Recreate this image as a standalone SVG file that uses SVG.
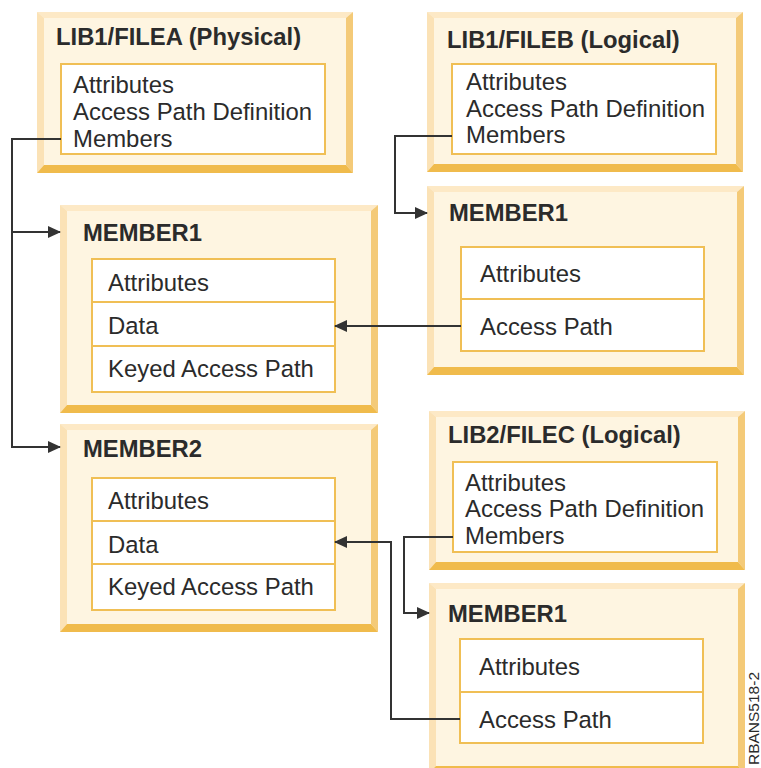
<svg xmlns="http://www.w3.org/2000/svg" width="761" height="768" viewBox="0 0 761 768">
<defs>
<style>
.fill{fill:#fef5e1}
.bl{fill:#fbe2b6}
.bt{fill:#fde9c6}
.br{fill:#f4ca78}
.bb{fill:#f0bb4c}
.in{fill:#ffffff;stroke:#f0bf55;stroke-width:2}
.div{stroke:#f0bf55;stroke-width:2}
.title{font-family:"Liberation Sans",Arial,sans-serif;font-weight:bold;font-size:23.8px;fill:#2b2b2b}
.body{font-family:"Liberation Sans",Arial,sans-serif;font-size:23.9px;fill:#2b2b2b}
.conn{fill:none;stroke:#333333;stroke-width:2}
.code{font-family:"Liberation Sans",Arial,sans-serif;font-size:15.5px;fill:#2b2b2b}
</style>
<marker id="arr" markerUnits="userSpaceOnUse" markerWidth="13" markerHeight="12" refX="12" refY="6" orient="auto">
<path d="M0,0 L13,6 L0,12 z" fill="#333333"/>
</marker>
</defs>
<rect width="761" height="768" fill="#ffffff"/>

<g id="filea">
<rect class="fill" x="37" y="12" width="316" height="161"/>
<polygon class="bt" points="37,12 353,12 346,18 44,18"/>
<polygon class="bl" points="37,12 44,18 44,165 37,173"/>
<polygon class="br" points="353,12 353,173 346,165 346,18"/>
<polygon class="bb" points="37,173 44,165 346,165 353,173"/>
<rect class="in" x="61" y="64" width="264" height="90"/>
<text class="title" x="56" y="45">LIB1/FILEA (Physical)</text>
<text class="body" x="73" y="93">Attributes</text>
<text class="body" x="73" y="120">Access Path Definition</text>
<text class="body" x="73" y="147">Members</text>
</g>

<g id="fileb">
<rect class="fill" x="427" y="12" width="316" height="160"/>
<polygon class="bt" points="427,12 743,12 736,18 434,18"/>
<polygon class="bl" points="427,12 434,18 434,164 427,172"/>
<polygon class="br" points="743,12 743,172 736,164 736,18"/>
<polygon class="bb" points="427,172 434,164 736,164 743,172"/>
<rect class="in" x="452" y="64" width="264" height="90"/>
<text class="title" x="447" y="48">LIB1/FILEB (Logical)</text>
<text class="body" x="466" y="90">Attributes</text>
<text class="body" x="466" y="117">Access Path Definition</text>
<text class="body" x="466" y="143">Members</text>
</g>

<g id="member1-a">
<rect class="fill" x="60" y="205" width="318" height="208"/>
<polygon class="bt" points="60,205 378,205 371,211 67,211"/>
<polygon class="bl" points="60,205 67,211 67,405 60,413"/>
<polygon class="br" points="378,205 378,413 371,405 371,211"/>
<polygon class="bb" points="60,413 67,405 371,405 378,413"/>
<rect class="in" x="92" y="259" width="243" height="133"/>
<line class="div" x1="92" y1="302" x2="335" y2="302"/>
<line class="div" x1="92" y1="346" x2="335" y2="346"/>
<text class="title" x="83" y="241">MEMBER1</text>
<text class="body" x="108" y="291">Attributes</text>
<text class="body" x="108" y="334">Data</text>
<text class="body" x="108" y="377">Keyed Access Path</text>
</g>

<g id="member1-b">
<rect class="fill" x="427" y="186" width="317" height="189"/>
<polygon class="bt" points="427,186 744,186 737,192 434,192"/>
<polygon class="bl" points="427,186 434,192 434,367 427,375"/>
<polygon class="br" points="744,186 744,375 737,367 737,192"/>
<polygon class="bb" points="427,375 434,367 737,367 744,375"/>
<rect class="in" x="461" y="247" width="243" height="104"/>
<line class="div" x1="461" y1="299" x2="704" y2="299"/>
<text class="title" x="449" y="221">MEMBER1</text>
<text class="body" x="480" y="282">Attributes</text>
<text class="body" x="480" y="335">Access Path</text>
</g>

<g id="member2">
<rect class="fill" x="60" y="424" width="318" height="208"/>
<polygon class="bt" points="60,424 378,424 371,430 67,430"/>
<polygon class="bl" points="60,424 67,430 67,624 60,632"/>
<polygon class="br" points="378,424 378,632 371,624 371,430"/>
<polygon class="bb" points="60,632 67,624 371,624 378,632"/>
<rect class="in" x="92" y="478" width="243" height="132"/>
<line class="div" x1="92" y1="521" x2="335" y2="521"/>
<line class="div" x1="92" y1="564" x2="335" y2="564"/>
<text class="title" x="83" y="457">MEMBER2</text>
<text class="body" x="108" y="509">Attributes</text>
<text class="body" x="108" y="553">Data</text>
<text class="body" x="108" y="595">Keyed Access Path</text>
</g>

<g id="filec">
<rect class="fill" x="429" y="411" width="316" height="159"/>
<polygon class="bt" points="429,411 745,411 738,417 436,417"/>
<polygon class="bl" points="429,411 436,417 436,562 429,570"/>
<polygon class="br" points="745,411 745,570 738,562 738,417"/>
<polygon class="bb" points="429,570 436,562 738,562 745,570"/>
<rect class="in" x="453" y="462" width="264" height="90"/>
<text class="title" x="448" y="443">LIB2/FILEC (Logical)</text>
<text class="body" x="465" y="491">Attributes</text>
<text class="body" x="465" y="517">Access Path Definition</text>
<text class="body" x="465" y="544">Members</text>
</g>

<g id="member1-c">
<rect class="fill" x="429" y="583" width="316" height="190"/>
<polygon class="bt" points="429,583 745,583 738,589 436,589"/>
<polygon class="bl" points="429,583 436,589 436,766 429,773"/>
<polygon class="br" points="745,583 745,773 738,766 738,589"/>
<polygon class="bb" points="429,773 436,766 738,766 745,773"/>
<rect class="in" x="460" y="639" width="243" height="104"/>
<line class="div" x1="460" y1="692" x2="703" y2="692"/>
<text class="title" x="448" y="622">MEMBER1</text>
<text class="body" x="479" y="675">Attributes</text>
<text class="body" x="479" y="728">Access Path</text>
</g>

<g id="connectors">
<path class="conn" d="M61,139 H12 V447 H60" marker-end="url(#arr)"/>
<path class="conn" d="M12,232 H60" marker-end="url(#arr)"/>
<path class="conn" d="M452,136 H395 V213 H427" marker-end="url(#arr)"/>
<path class="conn" d="M461,326 H335" marker-end="url(#arr)"/>
<path class="conn" d="M453,537 H404 V613 H429" marker-end="url(#arr)"/>
<path class="conn" d="M460,719 H391 V542 H335" marker-end="url(#arr)"/>
</g>

<text class="code" transform="translate(759,672) rotate(-90)" text-anchor="end">RBANS518-2</text>
</svg>
